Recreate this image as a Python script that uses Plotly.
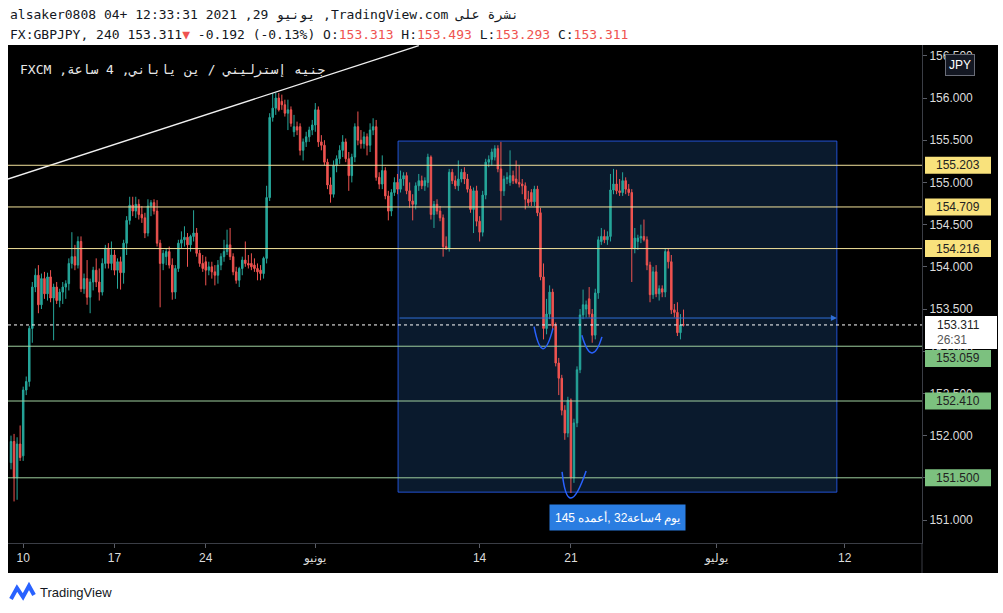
import plotly.graph_objects as go

# ---------------- data (GBPJPY, 4h bars) ----------------
opens = [151.68, 151.93, 151.50, 151.90, 151.76, 152.54, 152.64, 153.27, 153.76, 153.90,
         153.55, 153.86, 153.68, 153.88, 153.63, 153.76, 153.60, 153.70, 153.76, 153.80,
         154.04, 154.12, 154.02, 154.30, 153.74, 153.86, 153.64, 153.82, 153.96, 153.82,
         153.70, 154.04, 154.22, 154.04, 154.14, 153.96, 154.06, 153.93, 154.28, 154.55,
         154.73, 154.66, 154.74, 154.62, 154.58, 154.40, 154.72, 154.76, 154.66, 154.28,
         154.04, 154.12, 154.18, 154.02, 153.70, 153.98, 154.28, 154.32, 154.35, 154.26,
         154.36, 154.40, 154.16, 154.04, 154.06, 153.96, 154.00, 153.94, 153.90, 154.02,
         154.12, 154.18, 154.26, 154.12, 153.94, 153.84, 153.98, 154.08, 154.04, 154.04,
         154.02, 153.98, 153.96, 153.92, 154.10, 154.82, 155.77, 155.88, 156.00, 155.96,
         155.92, 155.82, 155.86, 155.60, 155.66, 155.66, 155.38, 155.48, 155.54, 155.62,
         155.68, 155.86, 155.48, 155.44, 155.24, 154.97, 154.86, 155.20, 155.28, 155.38,
         155.48, 155.28, 155.08, 155.30, 155.66, 155.50, 155.46, 155.54, 155.44, 155.62,
         155.66, 155.06, 154.98, 155.14, 154.84, 154.66, 154.88, 155.00, 154.92, 155.04,
         155.08, 154.90, 154.78, 154.74, 154.96, 155.02, 154.96, 155.00, 155.30, 154.62,
         154.74, 154.66, 154.58, 154.24, 154.22, 155.12, 155.02, 154.96, 155.04, 155.12,
         155.04, 154.92, 154.68, 154.90, 154.54, 154.41, 154.85, 155.24, 155.27, 155.30,
         155.40, 155.16, 154.90, 155.04, 155.00, 155.08, 155.04, 155.00, 154.98, 154.96,
         154.80, 154.88, 154.77, 154.92, 154.64, 153.88, 153.27, 153.44, 153.70, 153.30,
         152.86, 152.68, 152.30, 152.03, 152.42, 151.50, 152.15, 152.78, 153.43, 153.50,
         153.62, 153.44, 153.19, 153.69, 154.30, 154.36, 154.32, 154.36, 154.91, 154.98,
         154.90, 154.88, 155.02, 154.92, 154.88, 154.22, 154.30, 154.34, 154.36, 154.32,
         154.02, 153.67, 153.94, 153.68, 153.74, 153.70, 154.18, 154.06, 153.49, 153.46,
         153.22, 153.313]
highs = [152.00, 152.02, 151.98, 152.12, 152.58, 152.70, 153.30, 153.82, 153.98, 154.02,
         153.92, 153.94, 153.93, 153.96, 153.80, 153.82, 153.74, 153.82, 153.84, 154.10,
         154.41, 154.26, 154.36, 154.36, 153.92, 154.08, 153.86, 154.00, 154.10, 153.98,
         154.10, 154.26, 154.28, 154.30, 154.20, 154.10, 154.12, 154.32, 154.60, 154.83,
         154.83, 154.83, 154.80, 154.72, 154.64, 154.80, 154.79, 154.80, 154.79, 154.32,
         154.20, 154.22, 154.24, 154.10, 154.02, 154.32, 154.42, 154.48, 154.40, 154.38,
         154.67, 154.46, 154.20, 154.14, 154.12, 154.06, 154.06, 154.02, 154.08, 154.16,
         154.32, 154.44, 154.46, 154.16, 154.00, 154.00, 154.12, 154.30, 154.14, 154.16,
         154.10, 154.04, 154.02, 154.12, 154.96, 155.82, 156.06, 156.06, 156.06, 156.04,
         155.98, 155.98, 155.90, 155.80, 155.72, 155.70, 155.52, 155.60, 155.66, 155.74,
         155.94, 155.90, 155.56, 155.50, 155.28, 155.06, 155.26, 155.32, 155.44, 155.56,
         155.52, 155.36, 155.34, 155.70, 155.84, 155.62, 155.60, 155.58, 155.70, 155.76,
         155.74, 155.12, 155.32, 155.18, 154.90, 154.92, 155.06, 155.10, 155.14, 155.12,
         155.12, 155.00, 154.86, 155.00, 155.10, 155.08, 155.06, 155.34, 155.32, 154.78,
         154.80, 154.72, 154.62, 154.36, 155.16, 155.16, 155.08, 155.26, 155.16, 155.18,
         155.10, 154.96, 154.94, 154.96, 154.60, 154.90, 155.28, 155.32, 155.40, 155.44,
         155.44, 155.48, 155.08, 155.12, 155.38, 155.14, 155.26, 155.20, 155.04, 155.00,
         154.90, 154.92, 154.96, 154.96, 154.70, 154.04, 153.62, 153.78, 153.74, 153.34,
         152.92, 152.72, 152.36, 152.46, 152.44, 152.20, 152.82, 153.50, 153.73, 153.60,
         153.76, 153.50, 153.74, 154.36, 154.46, 154.44, 154.42, 155.10, 155.16, 155.15,
         155.04, 155.12, 155.06, 154.98, 154.92, 154.46, 154.38, 154.50, 154.56, 154.36,
         154.06, 154.00, 154.02, 153.78, 153.78, 154.22, 154.22, 154.14, 153.56, 153.58,
         153.44, 153.493]
lows = [151.60, 151.22, 151.24, 151.70, 151.70, 152.48, 152.58, 153.10, 153.70, 153.45,
        153.50, 153.62, 153.60, 153.58, 153.13, 153.56, 153.52, 153.56, 153.62, 153.72,
        153.98, 153.96, 153.98, 153.70, 153.68, 153.55, 153.45, 153.72, 153.76, 153.60,
        153.66, 153.98, 153.98, 153.96, 153.90, 153.74, 153.73, 153.80, 154.14, 154.50,
        154.60, 154.58, 154.56, 154.52, 154.34, 154.36, 154.60, 154.62, 154.24, 153.52,
        153.96, 154.02, 153.98, 153.61, 153.62, 153.94, 154.22, 154.24, 154.00, 154.18,
        154.30, 154.12, 154.00, 153.94, 153.78, 153.90, 153.86, 153.78, 153.80, 153.96,
        154.06, 154.14, 154.08, 153.90, 153.80, 153.76, 153.90, 154.00, 153.98, 153.96,
        153.94, 153.84, 153.84, 153.86, 154.04, 154.78, 155.72, 155.80, 155.84, 155.86,
        155.78, 155.62, 155.66, 155.54, 155.56, 155.32, 155.26, 155.42, 155.48, 155.56,
        155.60, 155.42, 155.38, 155.20, 154.92, 154.76, 154.82, 155.12, 155.22, 155.30,
        155.24, 154.90, 155.00, 155.24, 155.44, 155.40, 155.40, 155.32, 155.36, 155.56,
        155.02, 154.92, 154.92, 154.80, 154.55, 154.60, 154.84, 154.86, 154.88, 154.96,
        154.86, 154.70, 154.55, 154.68, 154.90, 154.92, 154.90, 154.94, 154.56, 154.46,
        154.62, 154.54, 154.12, 154.20, 154.18, 154.98, 154.92, 154.90, 155.00, 154.98,
        154.88, 154.64, 154.40, 154.48, 154.30, 154.36, 154.80, 155.18, 155.20, 155.26,
        155.12, 154.55, 154.84, 154.98, 154.96, 154.98, 154.98, 154.94, 154.86, 154.68,
        154.72, 154.72, 154.72, 154.60, 153.84, 153.14, 153.20, 153.38, 153.26, 152.82,
        152.48, 152.24, 151.95, 151.98, 151.32, 151.44, 152.10, 152.74, 153.38, 153.40,
        153.40, 153.10, 153.14, 153.62, 154.26, 154.28, 154.26, 154.30, 154.86, 154.86,
        154.84, 154.84, 154.86, 154.84, 153.82, 154.16, 154.20, 154.28, 154.30, 153.96,
        153.58, 153.62, 153.64, 153.60, 153.64, 153.64, 153.98, 153.44, 153.40, 153.18,
        153.14, 153.293]
closes = [151.93, 151.50, 151.90, 151.74, 152.54, 152.64, 153.27, 153.76, 153.90, 153.55,
          153.86, 153.68, 153.88, 153.63, 153.76, 153.60, 153.70, 153.76, 153.80, 154.04,
          154.12, 154.02, 154.30, 153.74, 153.86, 153.64, 153.82, 153.96, 153.82, 153.70,
          154.04, 154.22, 154.04, 154.14, 153.96, 154.06, 153.93, 154.28, 154.55, 154.73,
          154.66, 154.74, 154.62, 154.58, 154.40, 154.72, 154.76, 154.66, 154.28, 154.04,
          154.16, 154.18, 154.02, 153.70, 153.98, 154.28, 154.32, 154.35, 154.26, 154.36,
          154.40, 154.16, 154.04, 153.98, 153.96, 154.00, 153.94, 153.90, 154.02, 154.12,
          154.18, 154.26, 154.12, 153.94, 153.84, 153.98, 154.08, 154.04, 154.02, 154.00,
          153.98, 153.94, 153.92, 154.10, 154.82, 155.77, 155.88, 156.00, 155.86, 155.92,
          155.82, 155.86, 155.70, 155.66, 155.62, 155.38, 155.48, 155.54, 155.62, 155.68,
          155.86, 155.48, 155.44, 155.24, 154.97, 154.86, 155.20, 155.28, 155.38, 155.48,
          155.28, 155.08, 155.30, 155.66, 155.50, 155.46, 155.54, 155.44, 155.62, 155.66,
          155.06, 154.98, 155.14, 154.84, 154.66, 154.88, 155.00, 154.92, 155.04, 155.08,
          154.90, 154.78, 154.74, 154.96, 155.02, 154.96, 155.02, 155.30, 154.62, 154.74,
          154.66, 154.58, 154.24, 154.22, 155.12, 155.02, 154.96, 155.04, 155.12, 155.04,
          154.92, 154.68, 154.90, 154.54, 154.41, 154.85, 155.24, 155.27, 155.36, 155.40,
          155.16, 154.90, 155.04, 155.06, 155.08, 155.02, 155.00, 154.98, 154.96, 154.80,
          154.76, 154.77, 154.92, 154.64, 153.88, 153.27, 153.44, 153.70, 153.30, 152.86,
          152.68, 152.30, 152.03, 152.42, 151.50, 152.15, 152.78, 153.43, 153.55, 153.55,
          153.44, 153.19, 153.69, 154.32, 154.36, 154.32, 154.36, 154.91, 154.98, 154.90,
          154.88, 155.02, 154.92, 154.88, 154.22, 154.34, 154.34, 154.36, 154.32, 154.02,
          153.67, 153.94, 153.68, 153.74, 153.70, 154.18, 154.06, 153.49, 153.46, 153.22,
          153.31, 153.311]
bar_index = list(range(len(closes)))

# time-axis labels (bar index of each date)
date_tick_index = [4, 34, 64, 100, 154, 184, 232, 274]
date_tick_text = ["10", "17", "24", "يونيو", "14", "21", "يوليو", "12"]

price_ticks = [151.0, 151.5, 152.0, 152.5, 153.0, 153.5, 154.0, 154.5, 155.0, 155.5, 156.0, 156.5]

resistance_levels = [155.203, 154.709, 154.216]
support_levels = [153.059, 152.410, 151.500]
last_price = 153.311
countdown = "26:31"

trend_x = [-1.0, 134.0]
trend_y = [155.04, 156.62]

range_zone_x = [127.2, 271.4]
range_zone_y = [151.33, 155.49]
range_arrow_price = 153.393
range_bars = "145"
range_words = ["أعمده", "ساعة", "يوم"]
range_nums = ["32", "4"]
range_label_price = 151.03

arc_left_x = [171.9, 187.6, 181.1]
arc_left_y = [153.29, 153.19, 151.57]
arc_mid_x = [174.8, 190.9, 184.0]
arc_mid_y = [153.03, 152.98, 151.26]
arc_right_x = [178.1, 194.2, 189.0]
arc_right_y = [153.27, 153.17, 151.58]

# ---------------- layout constants ----------------
W, H = 1003, 613
ML, MT, PW, PH = 8, 45, 914, 498
X_RANGE = [-0.99, 299.38]
Y_RANGE = [150.7275, 156.628]
K = (Y_RANGE[1] - Y_RANGE[0]) / PH   # price units per pixel

UP = "#26a69a"
DOWN = "#ef5350"
YEL_LINE = "#f3e29b"
YEL_LBL = "#f9e27c"
GRN_LINE = "#9fcf9f"
GRN_LBL = "#7cc17f"
BLUE = "#2962ff"
AXIS_TXT = "#dcdcdc"
MONO = "DejaVu Sans Mono"
SANS = "Liberation Sans"


def px_x(px):
    return (px - ML) / PW


def px_y(py):
    return (MT + PH - py) / PH


fig = go.Figure()

fig.add_trace(go.Candlestick(
    x=bar_index, open=opens, high=highs, low=lows, close=closes,
    increasing=dict(line=dict(color=UP, width=1), fillcolor=UP),
    decreasing=dict(line=dict(color=DOWN, width=1), fillcolor=DOWN),
    whiskerwidth=0, hoverinfo="skip", showlegend=False))

fig.add_trace(go.Scatter(x=trend_x, y=trend_y, mode="lines",
                         line=dict(color="#f0f0f0", width=1.3),
                         hoverinfo="skip", showlegend=False))

shapes = []
# black chart panel (plot + axes)
shapes.append(dict(type="rect", xref="paper", yref="paper", x0=0, x1=px_x(998),
                   y0=px_y(573), y1=1, fillcolor="#000000", line=dict(width=0), layer="below"))
# price axis line continued through the time axis
shapes.append(dict(type="line", xref="paper", yref="paper", x0=1, x1=1,
                   y0=px_y(573), y1=0, line=dict(color="#3a3d45", width=1)))
# date & price range zone
shapes.append(dict(type="rect", xref="x", yref="y",
                   x0=range_zone_x[0], x1=range_zone_x[1],
                   y0=range_zone_y[0], y1=range_zone_y[1],
                   fillcolor="#0a1a2d", line=dict(color="rgba(41,98,255,0.8)", width=1),
                   layer="below"))
# horizontal levels
for lv in resistance_levels:
    shapes.append(dict(type="line", xref="paper", yref="y", x0=0, x1=1, y0=lv, y1=lv,
                       line=dict(color=YEL_LINE, width=1)))
for lv in support_levels:
    shapes.append(dict(type="line", xref="paper", yref="y", x0=0, x1=1, y0=lv, y1=lv,
                       line=dict(color=GRN_LINE, width=1)))
shapes.append(dict(type="line", xref="paper", yref="y", x0=0, x1=1,
                   y0=last_price, y1=last_price,
                   line=dict(color="#ffffff", width=1, dash="dot")))
# arcs
for lx, ly, mx, my, rx, ry in zip(arc_left_x, arc_left_y, arc_mid_x, arc_mid_y,
                                   arc_right_x, arc_right_y):
    cx = 2 * mx - (lx + rx) / 2
    cy = 2 * my - (ly + ry) / 2
    shapes.append(dict(type="path", xref="x", yref="y",
                       path=f"M {lx},{ly} Q {cx},{cy} {rx},{ry}",
                       line=dict(color=BLUE, width=1.5)))

# price-axis labels (boxes), shifted down when they collide with the last-price box
HALF = 8.5 * K
last_top = last_price + 9 * K
last_bot = last_price - 24 * K


def label_center(lv):
    if lv + HALF > last_bot and lv - HALF < last_top:
        return last_bot - 1 * K - HALF
    return lv


for lv in resistance_levels:
    shapes.append(dict(type="rect", xref="paper", yref="y", x0=px_x(925), x1=px_x(991),
                       y0=lv - HALF, y1=lv + HALF, fillcolor=YEL_LBL, line=dict(width=0)))
for lv in support_levels:
    c = label_center(lv)
    shapes.append(dict(type="rect", xref="paper", yref="y", x0=px_x(925), x1=px_x(991),
                       y0=c - HALF, y1=c + HALF, fillcolor=GRN_LBL, line=dict(width=0)))
shapes.append(dict(type="rect", xref="paper", yref="y", x0=px_x(925), x1=px_x(997),
                   y0=last_bot, y1=last_top, fillcolor="#ffffff", line=dict(width=0)))
# TradingView logo mark
logo_pts = [(11, 599), (17, 588), (23, 597), (29, 586), (34, 595)]
logo_path = "M " + " L ".join(f"{px_x(a)},{px_y(b)}" for a, b in logo_pts)
shapes.append(dict(type="path", xref="paper", yref="paper", path=logo_path,
                   line=dict(color=BLUE, width=4)))

annotations = []
RLE, PDF, LRM = "\u202b", "\u202c", "\u200e"
annotations.append(dict(
    xref="paper", yref="paper", x=0, y=px_y(15), xanchor="left", yanchor="middle",
    text=RLE + "نشرة على TradingView.com, يونيو 29, 2021 12:33:31 +04 alsaker0808" + PDF,
    showarrow=False, font=dict(family=MONO, size=13, color="#131722")))
red_span = "<span style='color:%s'>%s</span>"
hdr2 = ("FX:GBPJPY, 240 153.311" + red_span % (DOWN, "▼") + " -0.192 (-0.13%) "
        + "O:" + red_span % (DOWN, f"{opens[-1]:.3f}")
        + " H:" + red_span % (DOWN, f"{highs[-1]:.3f}")
        + " L:" + red_span % (DOWN, f"{lows[-1]:.3f}")
        + " C:" + red_span % (DOWN, f"{closes[-1]:.3f}"))
annotations.append(dict(xref="paper", yref="paper", x=0, y=px_y(35), xanchor="left",
                        yanchor="middle", text=hdr2, showarrow=False,
                        font=dict(family=MONO, size=13, color="#131722")))
annotations.append(dict(
    xref="paper", yref="paper", x=px_x(18), y=px_y(70), xanchor="left", yanchor="middle",
    text=RLE + "جنيه إسترليني / ين ياباني, 4 ساعة, FXCM" + PDF, showarrow=False,
    font=dict(family=MONO, size=13, color="#e8e8e8")))
for lv in resistance_levels + support_levels:
    annotations.append(dict(xref="paper", yref="y", x=px_x(958), y=label_center(lv),
                            xanchor="center", yanchor="middle", text=f"{lv:.3f}",
                            showarrow=False,
                            font=dict(family=SANS, size=12, color="#222222")))
annotations.append(dict(xref="paper", yref="y", x=px_x(935), y=last_price, xanchor="left",
                        yanchor="middle", text=f"{last_price:.3f}", showarrow=False,
                        font=dict(family=SANS, size=12, color="#222222")))
annotations.append(dict(xref="paper", yref="y", x=px_x(935), y=last_price - 15.5 * K,
                        xanchor="left", yanchor="middle", text=countdown, showarrow=False,
                        font=dict(family=SANS, size=12, color="#555555")))
annotations.append(dict(xref="paper", yref="paper", x=px_x(960), y=px_y(65), xanchor="center",
                        yanchor="middle", text="JPY", showarrow=False, bgcolor="#131722",
                        bordercolor="#6a6d78", borderwidth=1, borderpad=3,
                        font=dict(family=SANS, size=12, color="#ffffff")))
# range arrow
annotations.append(dict(xref="x", yref="y", x=range_zone_x[1], y=range_arrow_price,
                        axref="x", ayref="y", ax=range_zone_x[0], ay=range_arrow_price,
                        text="", showarrow=True, arrowhead=2, arrowsize=1.2, arrowwidth=1,
                        arrowcolor="#2f6fd6"))
# range label, tokens kept in the visual order shown in the reference
iso = lambda w: LRM + w + LRM
range_label = (range_bars + " " + iso(range_words[0]) + ", " + range_nums[0]
               + iso(range_words[1]) + range_nums[1] + " " + iso(range_words[2]))
annotations.append(dict(xref="x", yref="y", x=sum(range_zone_x) / 2, y=range_label_price,
                        xanchor="center", yanchor="middle", text=range_label,
                        showarrow=False, bgcolor="#2a7de1", borderpad=5,
                        font=dict(family=SANS, size=12, color="#ffffff")))
annotations.append(dict(xref="paper", yref="paper", x=px_x(38), y=px_y(592), xanchor="left",
                        yanchor="middle", text="TradingView", showarrow=False,
                        font=dict(family=SANS, size=13, color="#131722")))

fig.update_layout(
    width=W, height=H,
    margin=dict(l=ML, r=W - ML - PW, t=MT, b=H - MT - PH, pad=0),
    paper_bgcolor="#ffffff", plot_bgcolor="#000000",
    showlegend=False, hovermode=False,
    shapes=shapes, annotations=annotations,
    xaxis=dict(range=X_RANGE, tickvals=date_tick_index, ticktext=date_tick_text,
               ticks="outside", ticklen=4, tickcolor="#5a5d66", showline=True,
               linecolor="#3a3d45", linewidth=1, showgrid=False, zeroline=False,
               tickfont=dict(family=SANS, size=12, color=AXIS_TXT),
               rangeslider=dict(visible=False), automargin=False, fixedrange=True),
    yaxis=dict(range=Y_RANGE, side="right", tickvals=price_ticks,
               ticktext=[f"{p:.3f}" for p in price_ticks],
               ticks="outside", ticklen=4, tickcolor="#5a5d66", showline=True,
               linecolor="#3a3d45", linewidth=1, showgrid=False, zeroline=False,
               tickfont=dict(family=SANS, size=12, color=AXIS_TXT),
               automargin=False, fixedrange=True),
)

fig.write_html("out.html")
